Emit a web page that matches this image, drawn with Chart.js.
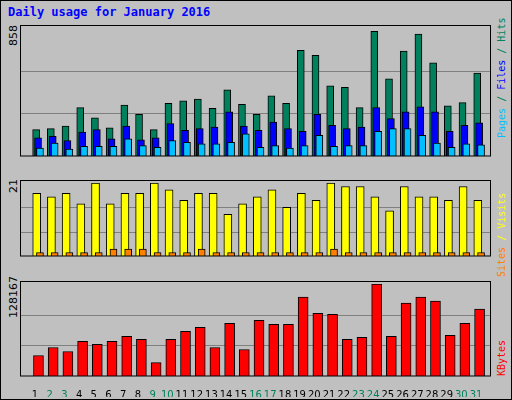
<!DOCTYPE html>
<html>
<head>
<meta charset="utf-8">
<script src="https://cdn.jsdelivr.net/npm/chart.js@4/dist/chart.umd.min.js"></script>
<style>
  body { margin: 0; background: #c0c0c0; }
  #frame { position: absolute; left: 0; top: 0; width: 510px; height: 398px; border: 1px solid #000; background: #c0c0c0; }
  .box { position: absolute; left: 20px; width: 471px; }
  .rot { position: absolute; transform: rotate(-90deg); transform-origin: left top; white-space: nowrap; font: 10px "DejaVu Sans Mono", monospace; line-height: 11px; }
  #title { position: absolute; left: 8px; top: 5px; font: bold 12px "DejaVu Sans Mono", monospace; color: #0000ff; }
</style>
</head>
<body>
<div id="frame"></div>
<div id="title">Daily usage for January 2016</div>
<div class="box" style="top:25px;height:152px"><canvas id="c1"></canvas></div>
<div class="box" style="top:180px;height:97px"><canvas id="c2"></canvas></div>
<div class="box" style="top:281px;height:116px"><canvas id="c3"></canvas></div>

<div class="rot" style="left:8px;top:46px;font-family:'DejaVu Sans';font-size:11px;line-height:12px">858</div>
<div class="rot" style="left:8px;top:193px;font-family:'DejaVu Sans';font-size:11px;line-height:12px">21</div>
<div class="rot" style="left:8px;top:318px;font-family:'DejaVu Sans';font-size:11px;line-height:12px">128167</div>

<div class="rot" style="left:496px;top:138px"><span style="color:#00c0ff">Pages</span><span style="color:#00805c"> / </span><span style="color:#0000ff">Files</span><span style="color:#00805c"> / Hits</span></div>
<div class="rot" style="left:496px;top:277px"><span style="color:#ff8000">Sites</span><span style="color:#ffff00"> / Visits</span></div>
<div class="rot" style="left:496px;top:376px;color:#ff0000">KBytes</div>

<script>
let days = [];
for (let d = 1; d <= 31; d++) days.push(d);
let weekends = [2, 3, 9, 10, 16, 17, 23, 24, 30, 31];

let hits = [177, 183, 200, 324, 256, 189, 341, 279, 177, 353, 370, 381, 319, 443, 347, 279, 404, 353, 709, 675, 471, 460, 324, 835, 517, 703, 817, 624, 336, 358, 556];
let files = [121, 132, 104, 160, 177, 115, 200, 109, 121, 217, 172, 183, 194, 296, 200, 172, 228, 183, 166, 279, 206, 183, 194, 324, 251, 296, 330, 296, 166, 206, 223];
let pages = [53, 87, 47, 64, 64, 64, 115, 70, 58, 104, 92, 81, 81, 92, 149, 58, 70, 53, 70, 138, 64, 70, 70, 166, 183, 183, 138, 87, 58, 81, 75];
let visits = [18, 17, 18, 15, 21, 15, 18, 18, 21, 19, 16, 18, 18, 12, 15, 17, 19, 14, 18, 16, 21, 20, 20, 17, 13, 20, 17, 17, 16, 20, 16];
let sites = [1, 1, 1, 1, 1, 2, 2, 2, 1, 1, 1, 2, 1, 1, 1, 1, 1, 1, 1, 1, 2, 1, 1, 1, 1, 1, 1, 1, 1, 1, 1];
let kbytes = [28534, 39760, 34147, 48180, 43970, 48180, 55196, 50986, 18710, 50986, 62212, 67825, 39760, 73438, 36953, 77648, 72035, 72035, 109924, 87473, 86070, 50986, 53792, 128167, 55196, 101504, 109924, 104311, 56600, 73438, 93086];

let hitsMax = 858, visitsMax = 21, kbytesMax = 128167;

function pts(values, shift) {
    return values.map((v, i) => ({ x: days[i] + shift, y: v }));
}

function bars(label, values, shift, color, width) {
    return {
        label: label,
        data: pts(values, shift),
        backgroundColor: color,
        borderColor: "#000",
        borderWidth: 1,
        borderSkipped: "bottom",
        barThickness: width,
        grouped: false
    };
}

// thirds grid + black frame
let panel = {
    id: "panel",
    beforeDatasetsDraw(chart) {
        let a = chart.chartArea, y = chart.scales.y, c = chart.ctx;
        c.save();
        c.strokeStyle = "#808080";
        c.lineWidth = 1;
        [1, 2].forEach(k => {
            let py = Math.round(y.getPixelForValue(y.max * k / 3)) + 0.5;
            c.beginPath(); c.moveTo(a.left, py); c.lineTo(a.right, py); c.stroke();
        });
        c.restore();
    },
    afterDraw(chart) {
        let c = chart.ctx, x = chart.scales.x, y = chart.scales.y;
        c.save();
        c.strokeStyle = "#000";
        c.strokeRect(x.left + 0.5, 0.5, x.width - 1, y.bottom - 0.5);
        c.restore();
    }
};

function makeChart(id, datasets, max, showDays) {
    return new Chart(document.getElementById(id), {
        type: "bar",
        data: { datasets: datasets },
        plugins: [panel],
        options: {
            responsive: true,
            maintainAspectRatio: false,
            animation: false,
            layout: { padding: { top: 3 } },
            plugins: { legend: { display: false }, tooltip: { enabled: false } },
            scales: {
                x: {
                    type: "linear",
                    min: 0.5,
                    max: 31.5,
                    display: showDays,
                    grid: { display: false },
                    border: { display: false },
                    afterBuildTicks: s => { s.ticks = days.map(v => ({ value: v })); },
                    afterFit: s => { s.height = 21; },
                    ticks: {
                        padding: 5,
                        autoSkip: false,
                        maxRotation: 0,
                        font: { family: "DejaVu Sans", size: 10 },
                        color: ctx => weekends.includes(ctx.tick.value) ? "#00805c" : "#000"
                    }
                },
                y: { display: false, min: 0, max: max }
            }
        }
    });
}

makeChart("c1", [
    bars("Pages", pages, 0.34, "#00c0ff", 7),
    bars("Files", files, 0.21, "#0000ff", 7),
    bars("Hits", hits, 0.08, "#00805c", 7)
], hitsMax, false);

makeChart("c2", [
    bars("Sites", sites, 0.34, "#ff8000", 7),
    bars("Visits", visits, 0.12, "#ffff00", 8)
], visitsMax, false);

makeChart("c3", [
    bars("KBytes", kbytes, 0.24, "#ff0000", 10)
], kbytesMax, true);
</script>
</body>
</html>
